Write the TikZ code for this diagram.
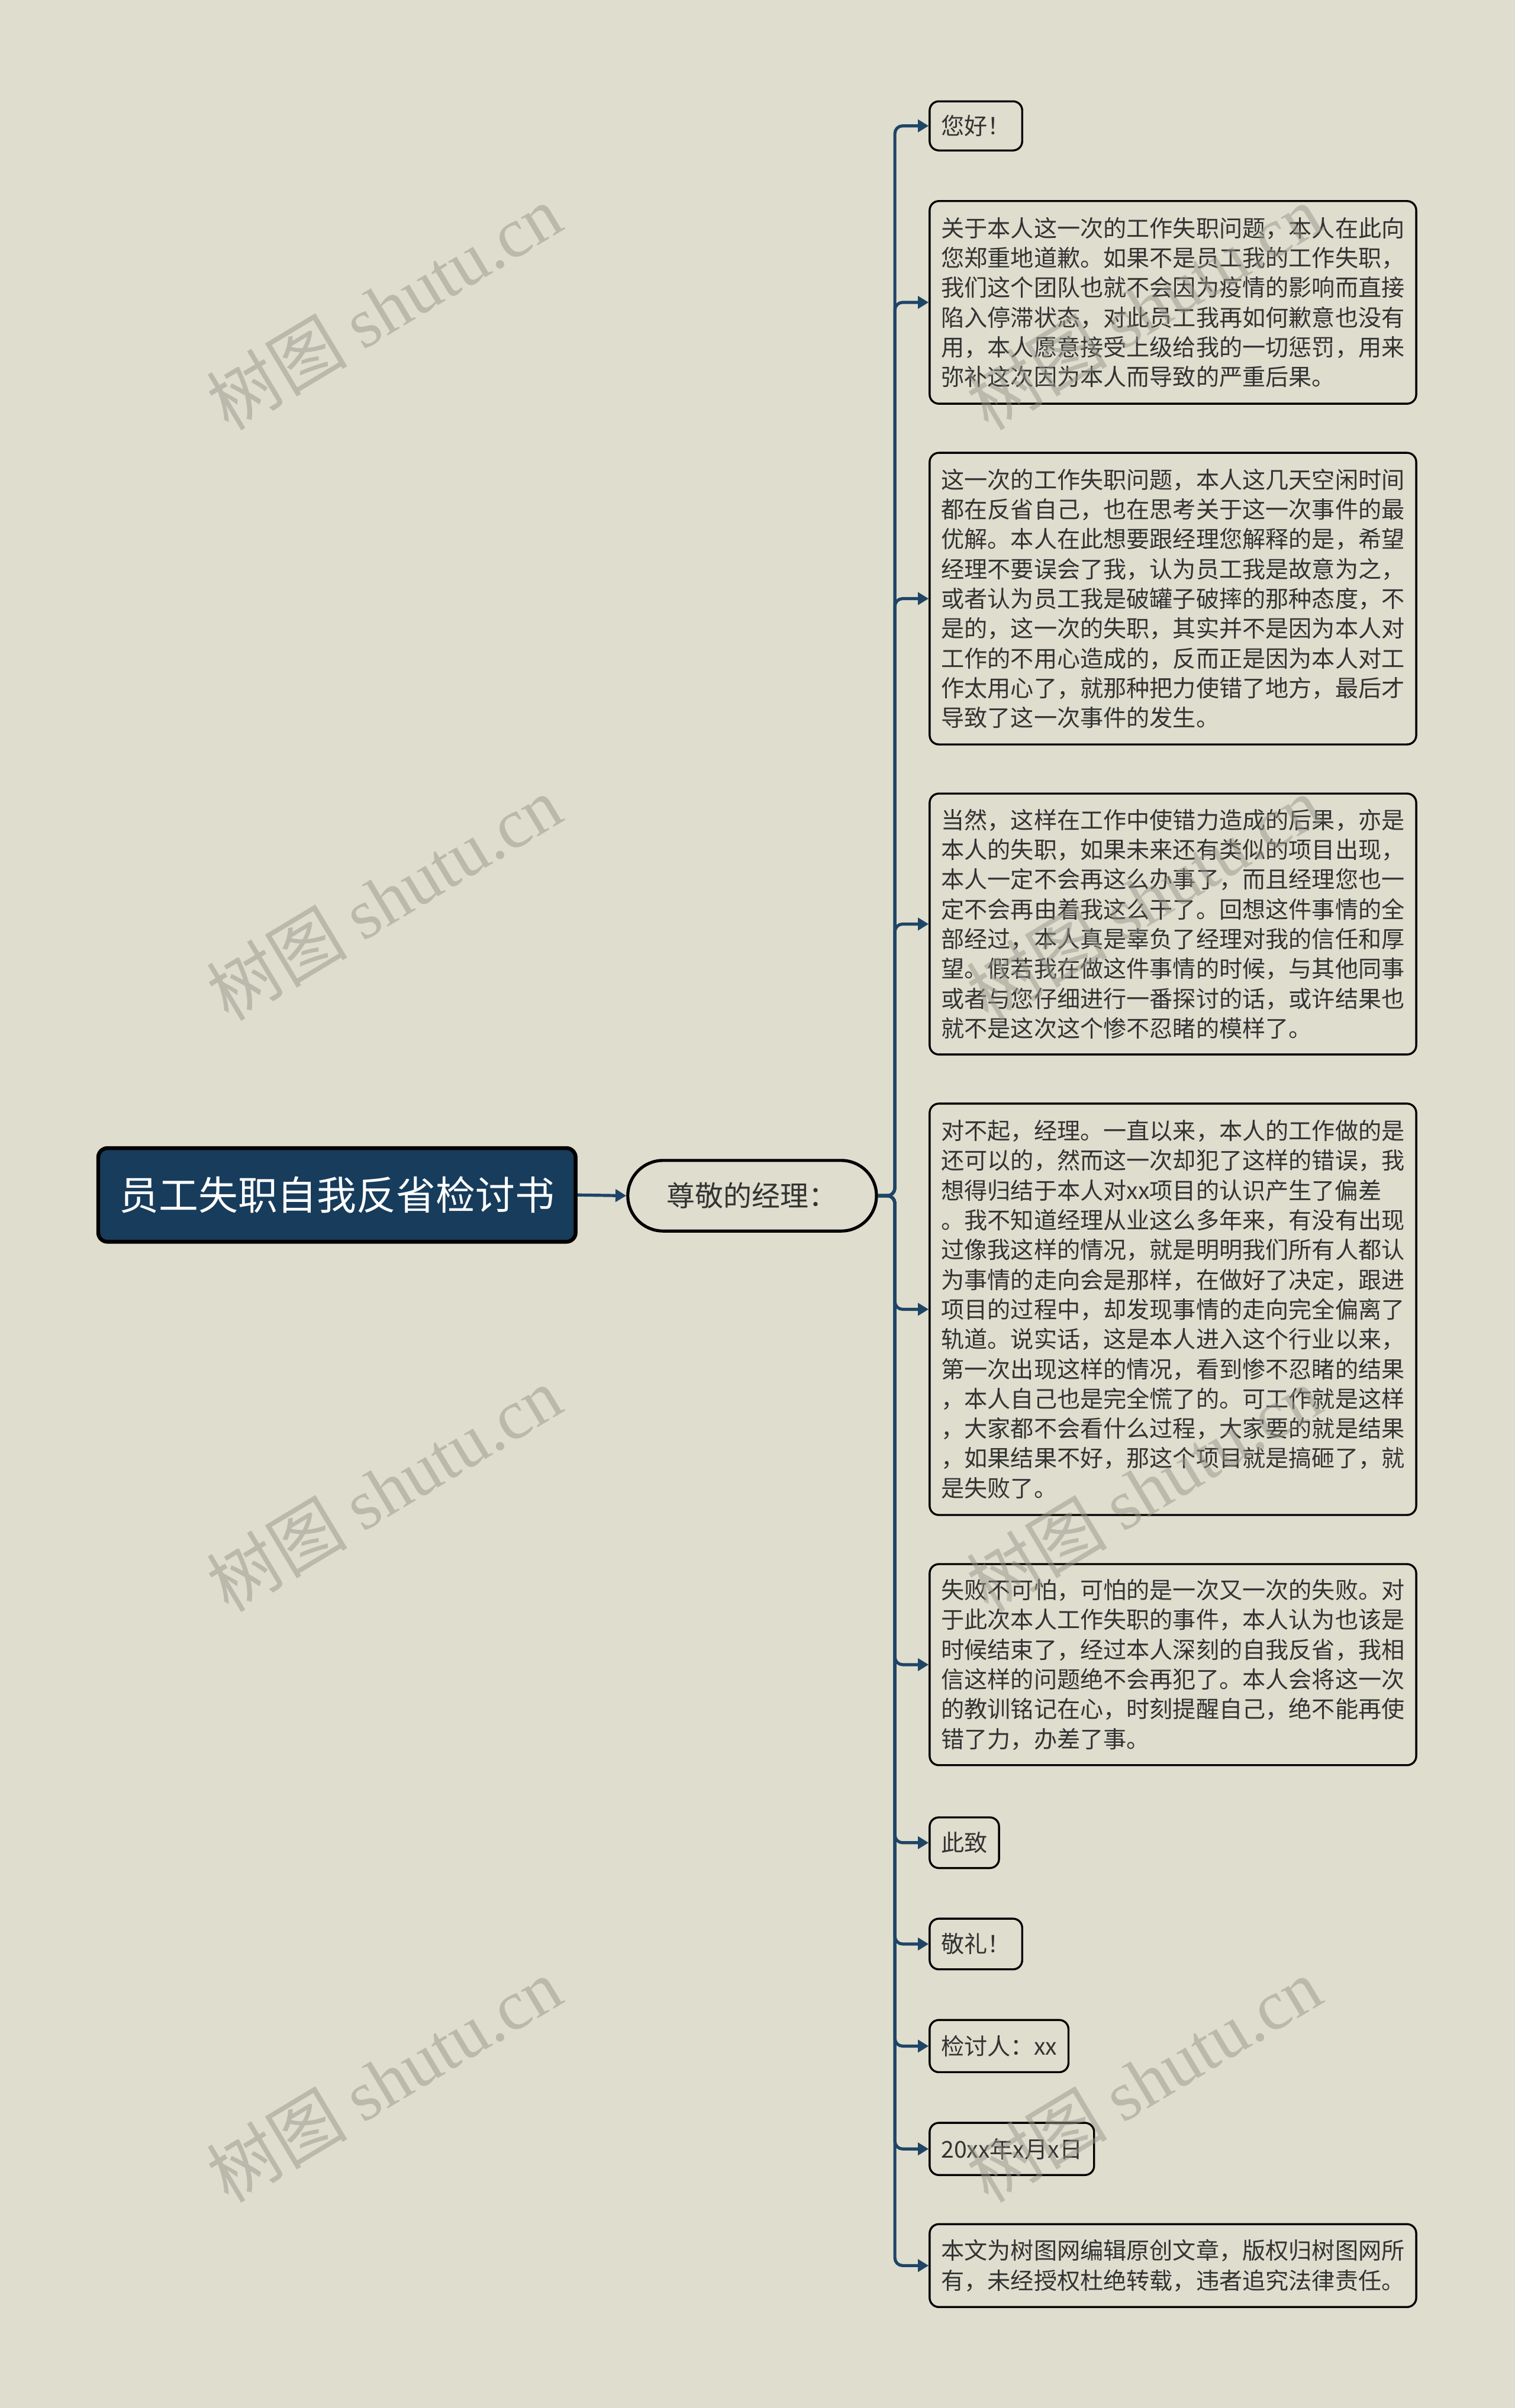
\documentclass[tikz,border=0pt]{standalone}
\usepackage{fontspec}
\setmainfont{Noto Sans CJK SC}
\newfontfamily\wmlatin{Liberation Serif}
\usetikzlibrary{arrows.meta}
\definecolor{bg}{HTML}{DFDDCE}
\definecolor{navy}{HTML}{173C5C}
\definecolor{link}{HTML}{1E4566}
\definecolor{txt}{HTML}{333333}
\definecolor{wm}{RGB}{150,150,140}
\begin{document}
\begin{tikzpicture}[x=1pt,y=1pt,
  leaf/.style={draw=black, line width=1.3pt, fill=bg, rounded corners=6pt, anchor=west, align=left, text=txt,
    font=\fontsize{15.1}{19.4}\selectfont, inner xsep=7.5pt, inner ysep=0pt},
  wide/.style={leaf, minimum width=317pt},
  conn/.style={draw=link, line width=2pt, rounded corners=5pt, -{Triangle[length=7pt,width=8pt]}},
  wmark/.style={rotate=31, text=wm, opacity=0.5, font=\fontsize{46}{46}\selectfont, inner sep=0pt}
]
\useasboundingbox[fill=bg] (0,0) rectangle (987,-1568.8);

\node[draw=black, line width=2.5pt, fill=navy, rounded corners=6pt, text=white,
  font=\fontsize{25.8}{30}\selectfont, minimum width=311pt, minimum height=61pt, inner sep=0pt]
  (root) at (219.5,-778.5) {员工失职自我反省检讨书};
\node[draw=black, line width=2pt, fill=bg, rounded corners=23pt, minimum width=162pt, minimum height=46pt,
  text=txt, font=\fontsize{18.5}{20}\selectfont, inner sep=0pt] (jing) at (490,-779) {尊敬的经理：};
\coordinate (tx) at (583,-779);

\node[leaf, minimum height=32pt] (b1) at (605,-82) {您好！};
\node[wide, minimum height=132pt] (b2) at (605,-197) {关于本人这一次的工作失职问题，本人在此向\\您郑重地道歉。如果不是员工我的工作失职，\\我们这个团队也就不会因为疫情的影响而直接\\陷入停滞状态，对此员工我再如何歉意也没有\\用，本人愿意接受上级给我的一切惩罚，用来\\弥补这次因为本人而导致的严重后果。};
\node[wide, minimum height=190pt] (b3) at (605,-390) {这一次的工作失职问题，本人这几天空闲时间\\都在反省自己，也在思考关于这一次事件的最\\优解。本人在此想要跟经理您解释的是，希望\\经理不要误会了我，认为员工我是故意为之，\\或者认为员工我是破罐子破摔的那种态度，不\\是的，这一次的失职，其实并不是因为本人对\\工作的不用心造成的，反而正是因为本人对工\\作太用心了，就那种把力使错了地方，最后才\\导致了这一次事件的发生。};
\node[wide, minimum height=170pt] (b4) at (605,-602) {当然，这样在工作中使错力造成的后果，亦是\\本人的失职，如果未来还有类似的项目出现，\\本人一定不会再这么办事了，而且经理您也一\\定不会再由着我这么干了。回想这件事情的全\\部经过，本人真是辜负了经理对我的信任和厚\\望。假若我在做这件事情的时候，与其他同事\\或者与您仔细进行一番探讨的话，或许结果也\\就不是这次这个惨不忍睹的模样了。};
\node[wide, minimum height=268pt] (b5) at (605,-853) {对不起，经理。一直以来，本人的工作做的是\\还可以的，然而这一次却犯了这样的错误，我\\想得归结于本人对xx项目的认识产生了偏差\\。我不知道经理从业这么多年来，有没有出现\\过像我这样的情况，就是明明我们所有人都认\\为事情的走向会是那样，在做好了决定，跟进\\项目的过程中，却发现事情的走向完全偏离了\\轨道。说实话，这是本人进入这个行业以来，\\第一次出现这样的情况，看到惨不忍睹的结果\\，本人自己也是完全慌了的。可工作就是这样\\，大家都不会看什么过程，大家要的就是结果\\，如果结果不好，那这个项目就是搞砸了，就\\是失败了。};
\node[wide, minimum height=131pt] (b6) at (605,-1084.5) {失败不可怕，可怕的是一次又一次的失败。对\\于此次本人工作失职的事件，本人认为也该是\\时候结束了，经过本人深刻的自我反省，我相\\信这样的问题绝不会再犯了。本人会将这一次\\的教训铭记在心，时刻提醒自己，绝不能再使\\错了力，办差了事。};
\node[leaf, minimum height=33pt] (b7) at (605,-1200.5) {此致};
\node[leaf, minimum height=33pt] (b8) at (605,-1266.5) {敬礼！};
\node[leaf, minimum height=34pt] (b9) at (605,-1333) {检讨人：xx};
\node[leaf, minimum height=34pt] (b10) at (605,-1400) {20xx年x月x日};
\node[wide, minimum height=54pt] (b11) at (605,-1476) {本文为树图网编辑原创文章，版权归树图网所\\有，未经授权杜绝转载，违者追究法律责任。};

\draw[conn] (root.east) -- (jing.west);
\foreach \b in {b1,b2,b3,b4,b5,b6,b7,b8,b9,b10,b11}
  \draw[conn] (jing.east) -- (tx) |- (\b.west);

\foreach \i/\x/\y in {1/250/200,2/250/585,3/250/970,4/250/1355,5/745/200,6/745/585,7/745/970,8/745/1355}
  \node[wmark] (w\i) at (\x,-\y) {树图 {\wmlatin shutu.cn}};
\end{tikzpicture}
\end{document}
